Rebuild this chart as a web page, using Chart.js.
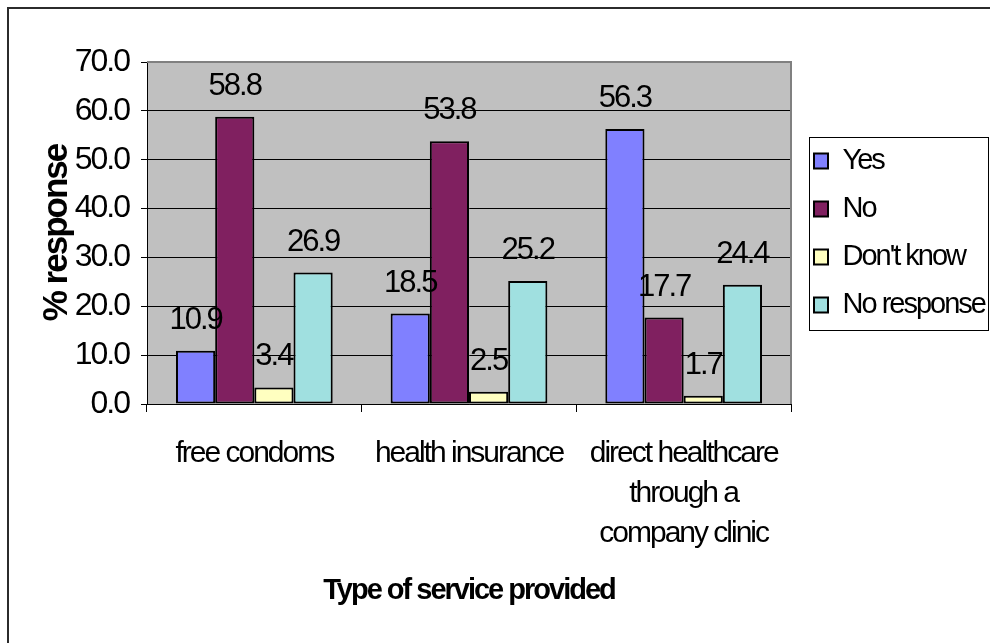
<!DOCTYPE html>
<html>
<head>
<meta charset="utf-8">
<title>Type of service provided</title>
<script src="https://cdn.jsdelivr.net/npm/chart.js@4/dist/chart.umd.min.js"></script>
<style>
  html, body { margin: 0; padding: 0; background: #fff; }
  #wrap { position: relative; width: 990px; height: 643px; }
</style>
</head>
<body>
<div id="wrap"><canvas id="serviceChart" width="990" height="643"></canvas></div>
<script>
// =========================
// DATA
// =========================
const categories = [
  "free condoms",
  "health insurance",
  ["direct healthcare", "through a", "company clinic"]
];
const seriesNames = ["Yes", "No", "Don't know", "No response"];
const yesValues = [10.9, 18.5, 56.3];
const noValues = [58.8, 53.8, 17.7];
const dontKnowValues = [3.4, 2.5, 1.7];
const noResponseValues = [26.9, 25.2, 24.4];
const yTicks = [0, 10, 20, 30, 40, 50, 60, 70];

const seriesColors = ["#8080ff", "#802060", "#ffffc0", "#a0e0e0"];

// =========================
// FONTS
// =========================
function hasFont(name) {
  const c = document.createElement("canvas").getContext("2d");
  c.font = "30px monospace";
  const a = c.measureText("No response wwii").width;
  c.font = `30px "${name}", monospace`;
  const b = c.measureText("No response wwii").width;
  return a !== b;
}
const NARROW = hasFont("Liberation Sans Narrow");
const FONT = NARROW ? '"Liberation Sans Narrow", sans-serif' : '"Liberation Sans", Arial, sans-serif';
const SPACING = NARROW ? "0px" : "-2px";

Chart.defaults.font.family = FONT;
Chart.defaults.color = "#000";

// =========================
// PLUGIN: frame, plot bg, labels, legend box
// =========================
const chartFrame = {
  id: "chartFrame",
  beforeUpdate(chart) {
    chart.ctx.letterSpacing = SPACING;
  },
  afterLayout(chart) {
    chart.legend.left += 4;
    chart.legend.right += 4;
  },
  beforeDraw(chart) {
    const { ctx, chartArea: a } = chart;
    ctx.letterSpacing = SPACING;
    ctx.save();
    ctx.fillStyle = "#fff";
    ctx.fillRect(0, 0, chart.width, chart.height);
    ctx.fillStyle = "#c0c0c0";
    ctx.fillRect(a.left, a.top, a.right - a.left, a.bottom - a.top);
    // outer frame (top + left only)
    ctx.fillStyle = "#2b2b2b";
    ctx.fillRect(7, 7, chart.width - 7, 2);
    ctx.fillRect(7, 7, 2, chart.height - 7);
    ctx.restore();
  },
  beforeDatasetsDraw(chart) {
    const { ctx, chartArea: a } = chart;
    ctx.save();
    ctx.strokeStyle = "#808080";
    ctx.lineWidth = 2;
    ctx.beginPath();
    ctx.moveTo(a.left, a.top);
    ctx.lineTo(a.right, a.top);
    ctx.lineTo(a.right, a.bottom);
    ctx.stroke();
    ctx.restore();
  },
  afterDatasetsDraw(chart) {
    const ctx = chart.ctx;
    ctx.save();
    ctx.font = `31px ${FONT}`;
    ctx.fillStyle = "#000";
    ctx.textAlign = "center";
    ctx.textBaseline = "alphabetic";
    chart.data.datasets.forEach((ds, i) => {
      const meta = chart.getDatasetMeta(i);
      meta.data.forEach((bar, j) => {
        ctx.fillText(ds.data[j].toFixed(1), bar.x, bar.y - 22);
      });
    });
    ctx.restore();
  },
  afterDraw(chart) {
    const boxes = chart.legend.legendHitBoxes;
    if (!boxes || !boxes.length) return;
    const first = boxes[0];
    const last = boxes[boxes.length - 1];
    const ctx = chart.ctx;
    const x0 = first.left - 5;
    const y0 = first.top - 9.5;
    ctx.save();
    ctx.strokeStyle = "#000";
    ctx.lineWidth = 1;
    ctx.strokeRect(x0 + 0.5, y0 + 0.5, chart.width - 2 - x0, last.top + last.height + 10.5 - y0);
    ctx.restore();
  }
};

// =========================
// CHART
// =========================
const ctx = document.getElementById("serviceChart").getContext("2d");
const allValues = [yesValues, noValues, dontKnowValues, noResponseValues];

const serviceChart = new Chart(ctx, {
  type: "bar",
  data: {
    labels: categories,
    datasets: allValues.map((vals, i) => ({
      label: seriesNames[i],
      data: vals,
      backgroundColor: seriesColors[i],
      borderColor: "#000",
      borderWidth: 2,
      borderSkipped: false,
      categoryPercentage: 0.73,
      barPercentage: 1.0
    }))
  },
  options: {
    responsive: false,
    animation: false,
    layout: { padding: { top: 62, right: 0, bottom: 0, left: 0 } },
    plugins: {
      tooltip: { enabled: false },
      legend: {
        position: "right",
        fullSize: false,
        maxWidth: 199,
        labels: {
          boxWidth: 14,
          boxHeight: 15,
          padding: 19,
          font: { size: 29 }
        }
      }
    },
    scales: {
      x: {
        grid: { drawOnChartArea: false, tickLength: 8, tickColor: "#000", offset: true },
        border: { color: "#000", width: 1 },
        ticks: {
          font: { size: 30, lineHeight: 40 / 30 },
          padding: 21.5,
          maxRotation: 0,
          autoSkip: false
        },
        title: {
          display: true,
          text: "Type of service provided",
          font: { size: 29, weight: "bold", lineHeight: 1 },
          padding: { top: 0, bottom: 38 }
        },
        afterFit(scale) { scale.height = 239; }
      },
      y: {
        min: yTicks[0],
        max: yTicks[yTicks.length - 1],
        ticks: {
          stepSize: yTicks[1] - yTicks[0],
          font: { size: 32 },
          padding: 12,
          callback: (v) => v.toFixed(1)
        },
        grid: { color: "#000", tickLength: 6, tickColor: "#000" },
        border: { color: "#000", width: 1 },
        title: {
          display: true,
          text: "% response",
          font: { family: '"Liberation Sans", Arial, sans-serif', size: 35, weight: "bold", lineHeight: 1 },
          padding: { top: 40, bottom: 0 }
        },
        afterFit(scale) { scale.width = 147; }
      }
    }
  },
  plugins: [chartFrame]
});
</script>
</body>
</html>
